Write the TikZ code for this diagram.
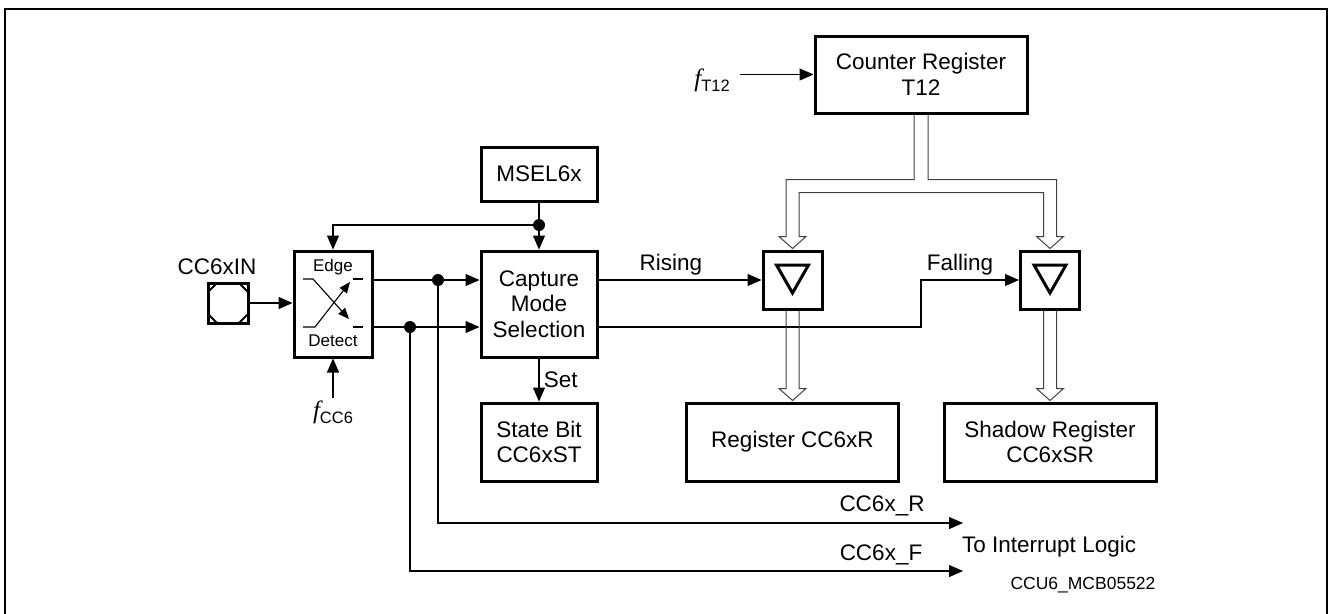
\documentclass[tikz,border=0pt]{standalone}
\usepackage{fontspec}
\setmainfont{Liberation Sans}
\newfontfamily\serifit{Liberation Serif}
\usetikzlibrary{arrows.meta,calc}

% hollow bus arrow from one block down to another
\newcommand{\busdown}[2]{%
  \draw[bus] let \p1=(#1.south), \p2=(#2.north) in
    (\x1-6.5pt,\y1) -- (\x1-6.5pt,\y2+13pt) -- (\x1-13.5pt,\y2+13pt) -- (\x1,\y2+1pt)
    -- (\x1+13.5pt,\y2+13pt) -- (\x1+6.5pt,\y2+13pt) -- (\x1+6.5pt,\y1);}
\newcommand{\freq}[1]{{\serifit\itshape\fontsize{25}{26}\selectfont f}\raisebox{-5pt}{\fontsize{16.5}{18}\selectfont #1}}

\begin{document}
\begin{tikzpicture}[
    x=1pt, y=-1pt,
    font=\fontsize{22.5}{25.5}\selectfont,
    block/.style={rectangle, draw, line width=3pt, inner sep=0pt, align=center},
    label/.style={inner sep=2pt},
    small/.style={inner sep=1pt, font=\fontsize{17}{19}\selectfont},
    wire/.style={line width=1.1pt},
    arrow/.style={wire, -{Triangle[length=14pt, width=12pt]}},
    tiny arrow/.style={wire, -{Triangle[length=11pt, width=9pt]}},
    dot/.style={circle, fill, inner sep=0pt, minimum size=12pt},
    bus/.style={line width=1pt, black!75}
]
    \useasboundingbox (0,0) rectangle (1329,613);
    \draw[line width=1.5pt] (5,620) -- (5,9) -- (1327,9) -- (1327,620);

    % blocks
    \node[block, minimum width=40pt, minimum height=40pt] (pad) at (228,303) {};
    \node[block, minimum width=78pt, minimum height=106pt] (edge) at (333,304) {};
    \node[block, minimum width=116pt, minimum height=106pt] (cap) at (539,304) {Capture\\Mode\\Selection};
    \node[block, minimum width=116pt, minimum height=54pt] (msel) at (539,174) {MSEL6x};
    \node[block, minimum width=116pt, minimum height=78pt] (state) at (539,442) {State Bit\\CC6xST};
    \node[block, minimum width=212pt, minimum height=77pt] (cnt) at (921,74.5) {Counter Register\\T12};
    \node[block, minimum width=59pt, minimum height=58pt] (cap1) at (792.5,280) {};
    \node[block, minimum width=59pt, minimum height=58pt] (cap2) at (1050,280) {};
    \node[block, minimum width=212pt, minimum height=78pt] (reg) at (792.5,442) {Register CC6xR};
    \node[block, minimum width=212pt, minimum height=78pt] (shadow) at (1050,442) {Shadow Register\\CC6xSR};

    % pad and edge detect symbols
    \draw[line width=2pt, shift={(pad)}] (-11,-20) -- (11,-20) -- (20,-11) -- (20,11)
        -- (11,20) -- (-11,20) -- (-20,11) -- (-20,-11) -- cycle;
    \node[small] (edgetxt) at (333,267) {Edge};
    \node[small] (dettxt) at (333,341) {Detect};
    \draw[tiny arrow, shift={(edge)}] (-30,-25) -- (-20,-25) -- (16,15);
    \draw[wire, shift={(edge)}] (20,23) -- (30,23);
    \draw[tiny arrow, shift={(edge)}] (-30,23) -- (-18,23) -- (17,-22);
    \draw[wire, shift={(edge)}] (20,-25) -- (30,-25);
    \draw[line width=3pt, line join=miter, shift={(cap1)}] (-16,-15) -- (16,-15) -- (0,13) -- cycle;
    \draw[line width=3pt, line join=miter, shift={(cap2)}] (-16,-15) -- (16,-15) -- (0,13) -- cycle;

    % labels
    \node[label] (inlbl) at (217,267) {CC6xIN};
    \node[label] (fcc) at (333,412) {\freq{CC6}};
    \node[label] (ft) at (712,80) {\freq{T12}};
    \node[label] (rise) at (671,265) {Rising};
    \node[label] (fall) at (960,265) {Falling};
    \node[label] (rlbl) at (882,506) {CC6x\_R};
    \node[label] (flbl) at (881,555) {CC6x\_F};
    \node[label, anchor=west] (intr) at (960,547) {To Interrupt Logic};
    \node[inner sep=1pt, font=\fontsize{17.5}{19}\selectfont] (figid) at (1083,585) {CCU6\_MCB05522};

    % dots and bends
    \node[dot] (mdot) at (539,225) {};
    \node[dot] (rdot) at (438,280) {};
    \node[dot] (fdot) at (410,327) {};
    \coordinate (fbend) at (921,327);
    \coordinate (rend) at (963,523);
    \coordinate (fend) at (963,571);
    \coordinate (ftout) at (740,74.5);

    % signals
    \draw[arrow] (pad) -- (edge.west |- pad);
    \draw[arrow] (fcc.north) -- (edge.south);
    \draw[wire] (msel.south) -- (mdot);
    \draw[arrow] (mdot) -- (cap.north);
    \draw[arrow] (mdot) -| (edge.north);
    \draw[arrow] (edge.east |- rdot) -- (cap.west |- rdot);
    \draw[arrow] (edge.east |- fdot) -- (cap.west |- fdot);
    \draw[arrow] (cap.east |- rdot) -- (cap1.west);
    \draw[arrow] (cap.east |- fdot) -- (fbend) |- (cap2.west);
    \draw[arrow] (cap.south) -- (state.north) node[midway, right=1pt] {Set};
    \draw[arrow] (ftout) -- (cnt.west);
    \draw[arrow] (rdot) |- (rend);
    \draw[arrow] (fdot) |- (fend);

    % buses
    \draw[bus] let \p1=(cnt.south), \p2=(cap1.north), \p3=(cap2.north) in
        (\x1-7pt,\y1) -- (\x1-7pt,\y1-65pt) -- (\x2-6.5pt,\y1-65pt) -- (\x2-6.5pt,\y2+13pt)
        -- (\x2-13.5pt,\y2+13pt) -- (\x2,\y2+1pt) -- (\x2+13.5pt,\y2+13pt) -- (\x2+6.5pt,\y2+13pt)
        -- (\x2+6.5pt,\y1-78pt) -- (\x3-6.5pt,\y1-78pt) -- (\x3-6.5pt,\y3+13pt)
        -- (\x3-13.5pt,\y3+13pt) -- (\x3,\y3+1pt) -- (\x3+13.5pt,\y3+13pt) -- (\x3+6.5pt,\y3+13pt)
        -- (\x3+6.5pt,\y1-65pt) -- (\x1+7pt,\y1-65pt) -- (\x1+7pt,\y1);
    \busdown{cap1}{reg}
    \busdown{cap2}{shadow}
\end{tikzpicture}
\end{document}
